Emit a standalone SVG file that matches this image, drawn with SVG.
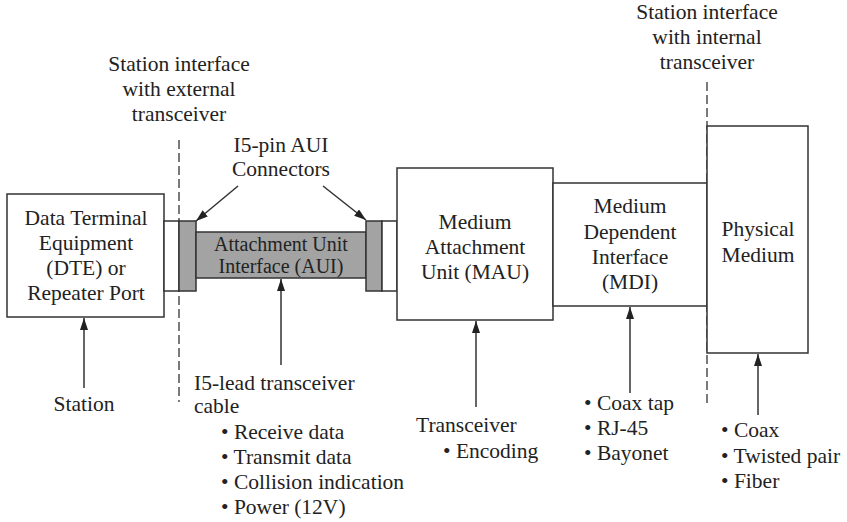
<svg xmlns="http://www.w3.org/2000/svg" width="847" height="522" viewBox="0 0 847 522" font-family="'Liberation Serif', 'DejaVu Serif', serif">
  <style>
    text { font-family: "Liberation Serif", "DejaVu Serif", serif; font-size: 21.5px; fill: #222; }
    .c { text-anchor: middle; }
    .small { font-size: 20px; }
    .box { fill: #fff; stroke: #333; stroke-width: 1.5; }
    .gray { fill: #a3a3a3; stroke: #333; stroke-width: 1.5; }
    .line { stroke: #333; stroke-width: 1.5; fill: none; }
    .dash { stroke: #333; stroke-width: 1.3; stroke-dasharray: 9 4; fill: none; }
  </style>
  <defs>
    <marker id="arrow" markerUnits="userSpaceOnUse" markerWidth="14" markerHeight="10" refX="12" refY="4" orient="auto">
      <path d="M0,0 L12,4 L0,8 Z" fill="#222"/>
    </marker>
  </defs>

  <rect width="847" height="522" fill="#fff"/>

  <!-- interface boundaries -->
  <g id="boundaries">
    <line class="dash" x1="179" y1="140" x2="179" y2="402"/>
    <line class="dash" x1="707" y1="82" x2="707" y2="407"/>
    <text class="c" x="179" y="71">Station interface</text>
    <text class="c" x="179" y="96">with external</text>
    <text class="c" x="179" y="121">transceiver</text>
    <text class="c" x="707" y="19">Station interface</text>
    <text class="c" x="707" y="44">with internal</text>
    <text class="c" x="707" y="69">transceiver</text>
  </g>

  <!-- DTE -->
  <g id="dte">
    <rect class="box" x="7" y="194" width="157" height="123"/>
    <text class="c" x="86" y="225">Data Terminal</text>
    <text class="c" x="86" y="250">Equipment</text>
    <text class="c" x="86" y="275">(DTE) or</text>
    <text class="c" x="86" y="300">Repeater Port</text>
  </g>

  <!-- AUI cable with its two 15-pin connectors -->
  <g id="aui">
    <rect class="box" x="164" y="221" width="15" height="70"/>
    <rect class="gray" x="179" y="221" width="17" height="70"/>
    <rect class="gray" x="196" y="232" width="170" height="46"/>
    <rect class="gray" x="366" y="221" width="16" height="70"/>
    <rect class="box" x="382" y="221" width="15" height="70"/>
    <text class="c small" x="281" y="251">Attachment Unit</text>
    <text class="c small" x="281" y="273">Interface (AUI)</text>
  </g>

  <g id="connectors-label">
    <text class="c" x="281" y="152">I5-pin AUI</text>
    <text class="c" x="281" y="176">Connectors</text>
  </g>

  <!-- MAU -->
  <g id="mau">
    <rect class="box" x="397" y="168" width="156" height="152"/>
    <text class="c" x="475" y="229">Medium</text>
    <text class="c" x="475" y="254">Attachment</text>
    <text class="c" x="475" y="279">Unit (MAU)</text>
  </g>

  <!-- MDI -->
  <g id="mdi">
    <rect class="box" x="553" y="183" width="154" height="123"/>
    <text class="c" x="630" y="213">Medium</text>
    <text class="c" x="630" y="239">Dependent</text>
    <text class="c" x="630" y="264">Interface</text>
    <text class="c" x="630" y="289">(MDI)</text>
  </g>

  <!-- Physical medium -->
  <g id="medium">
    <rect class="box" x="707" y="126" width="101" height="227"/>
    <text class="c" x="758" y="236">Physical</text>
    <text class="c" x="758" y="262">Medium</text>
  </g>

  <!-- arrows -->
  <g id="connectors">
    <line class="line" x1="238" y1="186" x2="196" y2="221" marker-end="url(#arrow)"/>
    <line class="line" x1="323" y1="186" x2="366" y2="220" marker-end="url(#arrow)"/>
    <line class="line" x1="84" y1="388" x2="84" y2="318" marker-end="url(#arrow)"/>
    <line class="line" x1="281" y1="365" x2="281" y2="279" marker-end="url(#arrow)"/>
    <line class="line" x1="476" y1="407" x2="476" y2="321" marker-end="url(#arrow)"/>
    <line class="line" x1="630" y1="393" x2="630" y2="307" marker-end="url(#arrow)"/>
    <line class="line" x1="758" y1="415" x2="758" y2="354" marker-end="url(#arrow)"/>
  </g>

  <!-- annotations -->
  <g id="station-label">
    <text class="c" x="84" y="411">Station</text>
  </g>

  <g id="cable-label">
    <text x="194" y="390">I5-lead transceiver</text>
    <text x="194" y="413">cable</text>
    <text x="221" y="439">• Receive data</text>
    <text x="221" y="464">• Transmit data</text>
    <text x="221" y="489">• Collision indication</text>
    <text x="221" y="514">• Power (12V)</text>
  </g>

  <g id="transceiver-label">
    <text x="416" y="432">Transceiver</text>
    <text x="443" y="458">• Encoding</text>
  </g>

  <g id="mdi-label">
    <text x="584" y="410">• Coax tap</text>
    <text x="584" y="435">• RJ-45</text>
    <text x="584" y="460">• Bayonet</text>
  </g>

  <g id="medium-label">
    <text x="721" y="437">• Coax</text>
    <text x="721" y="463">• Twisted pair</text>
    <text x="721" y="488">• Fiber</text>
  </g>
</svg>
